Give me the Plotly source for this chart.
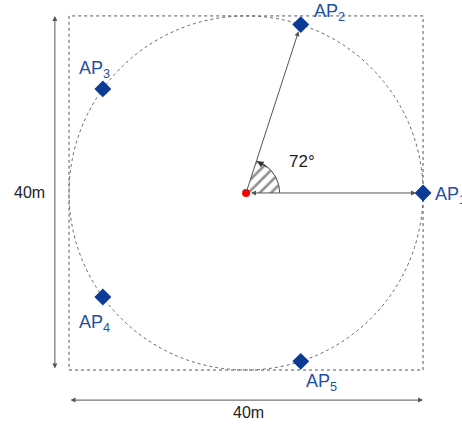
import numpy as np
import plotly.graph_objects as go

# ---- data ----
ap_names = ["AP<sub>1</sub>", "AP<sub>2</sub>", "AP<sub>3</sub>", "AP<sub>4</sub>", "AP<sub>5</sub>"]
ap_angles_deg = [0, 72, 144, 216, 288]
circle_radius = 20          # metres
room_half = 20              # room is 40m x 40m
angle_label = "72°"
dim_label = "40m"
wedge_radius = 3.8

ap_x = [circle_radius * np.cos(np.radians(a)) for a in ap_angles_deg]
ap_y = [circle_radius * np.sin(np.radians(a)) for a in ap_angles_deg]

fig = go.Figure()

# hatched wedge (0..72 deg)
th = np.radians(np.linspace(0, ap_angles_deg[1], 40))
wx = [0] + list(wedge_radius * np.cos(th)) + [0]
wy = [0] + list(wedge_radius * np.sin(th)) + [0]
fig.add_trace(go.Scatter(x=wx, y=wy, mode="lines", fill="toself",
                         fillcolor="white",
                         fillpattern=dict(shape="/", fgcolor="#222222", bgcolor="white",
                                          size=8, solidity=0.33),
                         line=dict(color="rgba(0,0,0,0)", width=0),
                         hoverinfo="skip", showlegend=False))
# arc
fig.add_trace(go.Scatter(x=list(wedge_radius * np.cos(th)), y=list(wedge_radius * np.sin(th)),
                         mode="lines", line=dict(color="#444444", width=1),
                         hoverinfo="skip", showlegend=False))

# AP markers
fig.add_trace(go.Scatter(x=ap_x, y=ap_y, mode="markers",
                         marker=dict(symbol="diamond", size=13, color="#0b3b94"),
                         hoverinfo="skip", showlegend=False))
# centre dot
fig.add_trace(go.Scatter(x=[0], y=[0], mode="markers",
                         marker=dict(size=8, color="#ff0000"),
                         hoverinfo="skip", showlegend=False))

shapes = [
    dict(type="rect", x0=-room_half, x1=room_half, y0=-room_half, y1=room_half,
         line=dict(color="#555555", width=1, dash="dot"), layer="below"),
    dict(type="circle", x0=-circle_radius, x1=circle_radius, y0=-circle_radius, y1=circle_radius,
         line=dict(color="#666666", width=1, dash="dot"), layer="below"),
]

ann = []
arrow_col = "#555555"
# centre -> AP1, double headed
tip = circle_radius - 0.8
ann.append(dict(x=tip, y=0, ax=0.4, ay=0, xref="x", yref="y", axref="x", ayref="y",
                showarrow=True, arrowhead=2, startarrowhead=2, arrowside="end+start",
                arrowsize=1, startarrowsize=1, arrowwidth=1, arrowcolor=arrow_col, text=""))
# centre -> AP2
a2 = np.radians(ap_angles_deg[1])
ann.append(dict(x=tip * np.cos(a2), y=tip * np.sin(a2), ax=0, ay=0,
                xref="x", yref="y", axref="x", ayref="y",
                showarrow=True, arrowhead=2, arrowsize=1, arrowwidth=1,
                arrowcolor=arrow_col, text=""))
# arc arrowhead
a_end = np.radians(ap_angles_deg[1] - 1)
a_start = np.radians(ap_angles_deg[1] - 25)
ann.append(dict(x=wedge_radius * np.cos(a_end), y=wedge_radius * np.sin(a_end),
                ax=wedge_radius * np.cos(a_start), ay=wedge_radius * np.sin(a_start),
                xref="x", yref="y", axref="x", ayref="y",
                showarrow=True, arrowhead=2, arrowsize=1.3, arrowwidth=1,
                arrowcolor="#333333", text=""))
# dimension arrows
ann.append(dict(x=-21.6, y=room_half, ax=-21.6, ay=-room_half,
                xref="x", yref="y", axref="x", ayref="y",
                showarrow=True, arrowhead=2, startarrowhead=2, arrowside="end+start",
                arrowsize=1, startarrowsize=1, arrowwidth=1, arrowcolor=arrow_col, text=""))
ann.append(dict(x=room_half, y=-23.4, ax=-room_half, ay=-23.4,
                xref="x", yref="y", axref="x", ayref="y",
                showarrow=True, arrowhead=2, startarrowhead=2, arrowside="end+start",
                arrowsize=1, startarrowsize=1, arrowwidth=1, arrowcolor=arrow_col, text=""))

lab_font = dict(family="Liberation Sans, Arial, sans-serif", size=18, color="#1f4fa3")
ap_label_pos = [(21.1, -0.3), (7.4, 20.4), (-19.1, 14.0), (-19.1, -14.8), (6.6, -21.4)]
for name, (lx, ly) in zip(ap_names, ap_label_pos):
    ann.append(dict(x=lx, y=ly, xref="x", yref="y", text=name, showarrow=False,
                    xanchor="left", yanchor="middle", font=lab_font))

txt_font = dict(family="Liberation Sans, Arial, sans-serif", size=16, color="#222222")
ann.append(dict(x=-24.5, y=0, xref="x", yref="y", text=dim_label, showarrow=False, font=txt_font))
ann.append(dict(x=0.3, y=-24.8, xref="x", yref="y", text=dim_label, showarrow=False, font=txt_font))
ann.append(dict(x=6.3, y=3.5, xref="x", yref="y", text=angle_label, showarrow=False,
                font=dict(family="Liberation Sans, Arial, sans-serif", size=17, color="#222222")))

fig.update_layout(
    width=462, height=428, margin=dict(l=0, r=0, t=0, b=0),
    paper_bgcolor="white", plot_bgcolor="white",
    xaxis=dict(range=[-27.8, 24.4], visible=False, fixedrange=True),
    yaxis=dict(range=[-26.55, 21.8], visible=False, fixedrange=True),
    shapes=shapes, annotations=ann, showlegend=False,
)

fig.write_html("out.html", config={"displayModeBar": False},
               post_script="document.body.style.margin='0';document.body.style.overflow='hidden';")
